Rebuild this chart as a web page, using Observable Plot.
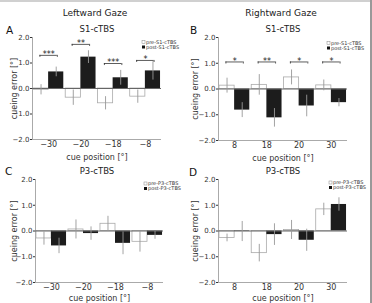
<!DOCTYPE html>
<html><head><meta charset="utf-8">
<script src="https://cdn.jsdelivr.net/npm/d3@7"></script>
<script src="https://cdn.jsdelivr.net/npm/@observablehq/plot@0.6"></script>
<style>
body{margin:0;background:#fff;}
#wrap{position:relative;width:372px;height:303px;overflow:hidden;font-family:"DejaVu Sans",sans-serif;color:#222;background:#fff;}
.panel{position:absolute;}
.panel svg{overflow:visible;}
.panel g[aria-label="y-axis tick label"]{font-size:7px;}
.overlay{position:absolute;left:0;top:0;pointer-events:none;}
</style></head><body><div id="wrap"></div>
<script>
// ---- data ----
const cuesLeft = ["−30", "−20", "−18", "−8"];
const cuesRight = ["8", "18", "20", "30"];
const yTicks = [-2, -1, 0, 1, 2];

const aPre = [-0.05, -0.36, -0.58, -0.32];
const aPreErr = [0.2, 0.3, 0.26, 0.26];
const aPost = [0.65, 1.23, 0.42, 0.69];
const aPostErr = [0.19, 0.25, 0.29, 0.36];
const aSigY = [1.3, 1.73, 0.98, 1.1];
const aSigStars = ["***", "**", "***", "*"];

const bPre = [0.13, 0.16, 0.45, 0.14];
const bPreErr = [0.29, 0.4, 0.29, 0.21];
const bPost = [-0.82, -1.12, -0.66, -0.53];
const bPostErr = [0.29, 0.36, 0.42, 0.16];
const bSigY = [1.05, 1.05, 1.05, 1.05];
const bSigStars = ["*", "**", "*", "*"];

const cPre = [-0.29, 0.06, 0.28, -0.42];
const cPreErr = [0.26, 0.37, 0.29, 0.4];
const cPost = [-0.58, -0.1, -0.48, -0.17];
const cPostErr = [0.3, 0.26, 0.44, 0.15];

const dPre = [-0.27, -0.86, 0.04, 0.84];
const dPreErr = [0.15, 0.34, 0.37, 0.24];
const dPost = [-0.02, -0.14, -0.36, 1.03];
const dPostErr = [0.39, 0.42, 0.43, 0.26];

// ---- drawing ----
const wrap = document.getElementById("wrap");
const HW = 0.47;

function panel(o) {
  const rows = o.cues.map((c, i) => ({i, c, pre: o.pre[i], preErr: o.preErr[i], post: o.post[i], postErr: o.postErr[i]}));
  const sig = o.sigY ? rows.map((d, i) => ({i: d.i, y: o.sigY[i], s: o.sigStars[i]})) : [];
  const bw = 0.27;
  const chart = Plot.plot({
    width: 186, height: o.height,
    marginLeft: o.ml, marginRight: o.mr, marginTop: o.mt, marginBottom: o.mb,
    style: {fontFamily: '"DejaVu Sans", sans-serif', fontSize: "8px", color: "#333", background: "transparent"},
    x: {domain: [-0.5, 3.5], ticks: [0, 1, 2, 3], tickFormat: i => o.cues[i], tickSize: 0, tickPadding: o.tickPad,
        label: "cue position [°]", labelAnchor: "center", labelOffset: o.xLabelOffset, labelArrow: false},
    y: {domain: [-2, 2], ticks: yTicks, tickSize: 2, tickPadding: 1,
        label: "cueing error [°]", labelAnchor: "center", labelOffset: o.yLabelOffset, labelArrow: false},
    marks: [
      Plot.ruleX([-0.5], {stroke: "#aaa"}),
      Plot.ruleY([-2], {stroke: "#aaa"}),
      Plot.rect(rows, {x1: d => d.i - HW, x2: "i", y1: 0, y2: "pre", fill: "white", stroke: "#aaa", strokeWidth: 0.8}),
      Plot.rect(rows, {x1: "i", x2: d => d.i + HW, y1: 0, y2: "post", fill: "#1c1c1c"}),
      Plot.ruleY([0], {stroke: "#666"}),
      Plot.ruleX(rows, {x: d => d.i - HW / 2, y1: d => d.pre - d.preErr, y2: d => d.pre + d.preErr, stroke: "#999", strokeWidth: 0.9}),
      Plot.ruleX(rows, {x: d => d.i + HW / 2, y1: d => d.post - d.postErr, y2: d => d.post + d.postErr, stroke: "#999", strokeWidth: 0.9}),
      Plot.ruleY(sig, {x1: d => d.i - bw, x2: d => d.i + bw, y: "y", stroke: "#333", strokeWidth: 0.8}),
      Plot.ruleX(sig, {x: d => d.i - bw, y1: "y", y2: d => d.y - 0.08, stroke: "#333", strokeWidth: 0.8}),
      Plot.ruleX(sig, {x: d => d.i + bw, y1: "y", y2: d => d.y - 0.08, stroke: "#333", strokeWidth: 0.8}),
      Plot.text(sig, {x: "i", y: "y", text: "s", lineAnchor: "middle", dy: -1, fontSize: 8, fill: "#222"})
    ]
  });
  const div = document.createElement("div");
  div.className = "panel";
  div.style.left = o.left + "px";
  div.style.top = o.top + "px";
  div.appendChild(chart);
  wrap.appendChild(div);
}

panel({cues: cuesLeft, pre: aPre, preErr: aPreErr, post: aPost, postErr: aPostErr, sigY: aSigY, sigStars: aSigStars,
  left: 0, top: 30, height: 132, ml: 32, mr: 25, mt: 7, mb: 23, yLabelOffset: 21, xLabelOffset: 20, tickPad: 2});
panel({cues: cuesRight, pre: bPre, preErr: bPreErr, post: bPost, postErr: bPostErr, sigY: bSigY, sigStars: bSigStars,
  left: 186, top: 30, height: 133, ml: 32, mr: 25, mt: 7, mb: 23, yLabelOffset: 26, xLabelOffset: 20, tickPad: 2});
panel({cues: cuesLeft, pre: cPre, preErr: cPreErr, post: cPost, postErr: cPostErr,
  left: 0, top: 172, height: 131, ml: 35, mr: 23, mt: 7, mb: 21, yLabelOffset: 24, xLabelOffset: 18, tickPad: 2});
panel({cues: cuesRight, pre: dPre, preErr: dPreErr, post: dPost, postErr: dPostErr,
  left: 186, top: 172, height: 131, ml: 32, mr: 25, mt: 7, mb: 21, yLabelOffset: 26, xLabelOffset: 18, tickPad: 2});

// ---- titles, panel letters, legends, frame ----
const titles = [
  {x: 95, y: 16, t: "Leftward Gaze", s: 9},
  {x: 281, y: 16, t: "Rightward Gaze", s: 9},
  {x: 97, y: 32, t: "S1-cTBS", s: 8.5},
  {x: 283, y: 32, t: "S1-cTBS", s: 8.5},
  {x: 97, y: 174, t: "P3-cTBS", s: 8.5},
  {x: 283, y: 174, t: "P3-cTBS", s: 8.5}
];
const letters = [
  {x: 6, y: 34, t: "A"}, {x: 190, y: 34, t: "B"}, {x: 5, y: 175, t: "C"}, {x: 189, y: 176, t: "D"}
];
const legends = [
  {x: 142, y: 42, a: "pre-S1-cTBS", b: "post-S1-cTBS"},
  {x: 327, y: 43, a: "pre-S1-cTBS", b: "post-S1-cTBS"},
  {x: 144, y: 183.5, a: "pre-P3-cTBS", b: "post-P3-cTBS"},
  {x: 329, y: 182.5, a: "pre-P3-cTBS", b: "post-P3-cTBS"}
];
const NS = "http://www.w3.org/2000/svg";
const ov = document.createElementNS(NS, "svg");
ov.setAttribute("class", "overlay");
ov.setAttribute("width", 372);
ov.setAttribute("height", 303);
ov.setAttribute("font-family", '"DejaVu Sans", sans-serif');
function el(tag, attrs, text) {
  const e = document.createElementNS(NS, tag);
  for (const k in attrs) e.setAttribute(k, attrs[k]);
  if (text != null) e.textContent = text;
  ov.appendChild(e);
  return e;
}
for (const t of titles) el("text", {x: t.x, y: t.y, "font-size": t.s, "text-anchor": "middle", fill: "#222"}, t.t);
for (const t of letters) el("text", {x: t.x, y: t.y, "font-size": 10.5, fill: "#111"}, t.t);
for (const l of legends) {
  el("rect", {x: l.x, y: l.y - 1.5, width: 3, height: 3, fill: "white", stroke: "#888", "stroke-width": 0.5});
  el("text", {x: l.x + 4, y: l.y + 1.7, "font-size": 5, fill: "#333"}, l.a);
  el("rect", {x: l.x, y: l.y + 3.5, width: 3, height: 3, fill: "#111"});
  el("text", {x: l.x + 4, y: l.y + 6.7, "font-size": 5, fill: "#333"}, l.b);
}
el("rect", {x: 0, y: 0, width: 372, height: 2, fill: "#d0d0d0"});
el("rect", {x: 370, y: 0, width: 2, height: 303, fill: "#999"});
wrap.appendChild(ov);
</script></body></html>
